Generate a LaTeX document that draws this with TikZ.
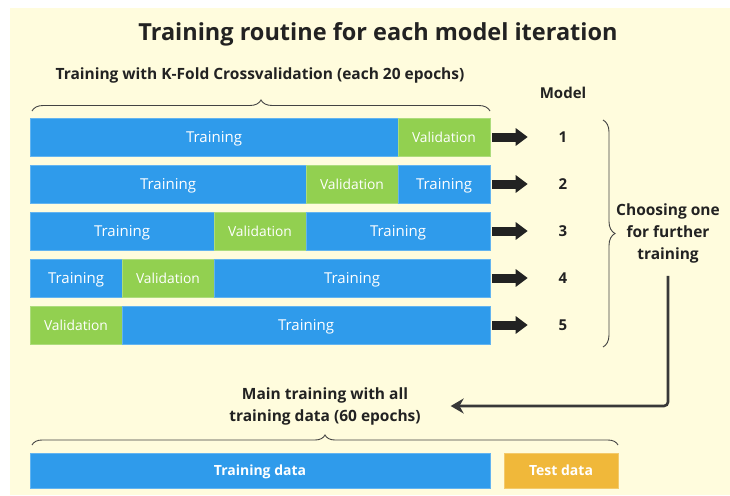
\documentclass[tikz,border=0pt]{standalone}
\usepackage{fontspec}
\setmainfont{Open Sans}
\usetikzlibrary{arrows.meta, positioning, decorations.pathreplacing, calc}

\definecolor{bgyellow}{HTML}{FFFCDD}
\definecolor{barblue}{HTML}{2F9BEB}
\definecolor{valgreen}{HTML}{92D050}
\definecolor{testorange}{HTML}{F0B83A}
\definecolor{ink}{HTML}{222222}

\begin{document}
\begin{tikzpicture}[x=1pt, y=-1pt,
    every node/.style={inner sep=0pt, outer sep=0pt},
    trainbox/.style={fill=barblue, draw=barblue!75!white, line width=0.6pt, minimum height=38pt, text depth=0pt, text=white, font=\fontsize{15}{18}\selectfont},
    valbox/.style={fill=valgreen, draw=valgreen!75!white, line width=0.6pt, minimum width=92pt, minimum height=38pt, text depth=0pt, text=white, font=\fontsize{13.8}{16}\selectfont},
    lbl/.style={text=ink, align=center, font=\bfseries\fontsize{15}{22}\selectfont},
    brace/.style={decorate, decoration={brace, amplitude=#1}, draw=ink!85, line width=0.9pt},
    blockarrow/.style={draw=ink, line width=9pt, -{Triangle[length=12pt, width=17pt]}, shorten <=2pt, shorten >=31pt},
    flowline/.style={draw=ink!90, line width=2.6pt, rounded corners=4pt, -{Stealth[length=13pt, width=15pt]}, shorten <=13pt, shorten >=30pt}
  ]
  % background and size
  \useasboundingbox (0,0) rectangle (730,495);
  \fill[bgyellow] (10,8) rectangle (730,495);

  % Titles
  \node[lbl, font=\bfseries\fontsize{23.5}{26}\selectfont] (title) at (378,34) {Training routine for each model iteration};
  \node[lbl, font=\bfseries\fontsize{15.5}{22}\selectfont] (kfold) at (260,75) {Training with K-Fold Crossvalidation (each 20 epochs)};
  \node[lbl] (model) at (563,93) {Model};

  % Folds
  \node[trainbox, minimum width=368pt, anchor=north west] (t1a) at (30,118) {Training};
  \node[valbox, right=0pt of t1a] (v1) {Validation};

  \node[trainbox, minimum width=276pt, anchor=north west] (t2a) at (30,165) {Training};
  \node[valbox, right=0pt of t2a] (v2) {Validation};
  \node[trainbox, minimum width=92pt, right=0pt of v2] (t2b) {Training};

  \node[trainbox, minimum width=184pt, anchor=north west] (t3a) at (30,212) {Training};
  \node[valbox, right=0pt of t3a] (v3) {Validation};
  \node[trainbox, minimum width=184pt, right=0pt of v3] (t3b) {Training};

  \node[trainbox, minimum width=92pt, anchor=north west] (t4a) at (30,259) {Training};
  \node[valbox, right=0pt of t4a] (v4) {Validation};
  \node[trainbox, minimum width=276pt, right=0pt of v4] (t4b) {Training};

  \node[valbox, anchor=north west] (v5) at (30,306) {Validation};
  \node[trainbox, minimum width=368pt, right=0pt of v5] (t5b) {Training};

  % Model numbers
  \node[lbl] (m1) at (563,137) {1};
  \node[lbl] (m2) at (563,184) {2};
  \node[lbl] (m3) at (563,231) {3};
  \node[lbl] (m4) at (563,278) {4};
  \node[lbl] (m5) at (563,325) {5};

  \draw[blockarrow] (v1.east) -- (m1.west);
  \draw[blockarrow] (t2b.east) -- (m2.west);
  \draw[blockarrow] (t3b.east) -- (m3.west);
  \draw[blockarrow] (t4b.east) -- (m4.west);
  \draw[blockarrow] (t5b.east) -- (m5.west);

  % Braces
  \draw[brace=11pt] (32,111) -- (490,111);
  \draw[brace=12pt] (603,120) -- (603,347);
  \draw[brace=10pt] (32,445) -- (618,445);

  % Selection and final training
  \node[lbl, font=\bfseries\fontsize{15.5}{22}\selectfont] (choose) at (668,233) {Choosing one\\for further\\training};
  \node[lbl, font=\bfseries\fontsize{15.5}{22}\selectfont] (main) at (325,406) {Main training with all\\training data (60 epochs)};
  \draw[flowline] (choose.south) |- (main.east);

  \node[trainbox, minimum width=460pt, minimum height=35pt, anchor=north west, font=\bfseries\fontsize{14}{17}\selectfont] (traindata) at (30,453) {Training data};
  \node[trainbox, fill=testorange, draw=testorange!75!white, minimum width=114pt, minimum height=35pt, anchor=north west, font=\bfseries\fontsize{14}{17}\selectfont] (testdata) at (504,453) {Test data};
\end{tikzpicture}
\end{document}
